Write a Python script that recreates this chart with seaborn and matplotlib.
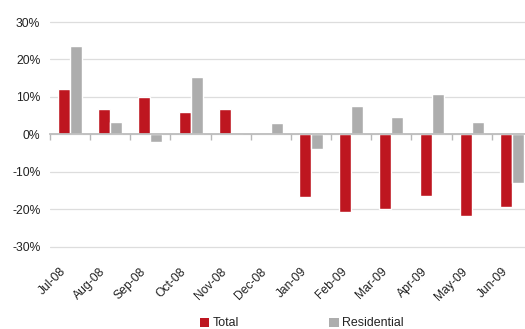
import matplotlib
matplotlib.use("Agg")
import matplotlib.pyplot as plt
from matplotlib.patches import Patch
from matplotlib.transforms import ScaledTranslation
from matplotlib.ticker import FuncFormatter, FixedLocator
import numpy as np
import pandas as pd
import seaborn as sns

# Monthly change, in percent
months = ["Jul-08", "Aug-08", "Sep-08", "Oct-08", "Nov-08", "Dec-08",
          "Jan-09", "Feb-09", "Mar-09", "Apr-09", "May-09", "Jun-09"]
total = [12.0, 6.7, 9.9, 5.9, 6.7, 0.0, -16.7, -20.8, -20.0, -16.4, -21.9, -19.5]
residential = [23.5, 3.2, -2.0, 15.2, 0.0, 2.9, -3.9, 7.5, 4.5, 10.9, 3.2, -13.0]
series_names = ["Total", "Residential"]
y_ticks = [-30, -20, -10, 0, 10, 20, 30]

colors = {"Total": "#BE1620", "Residential": "#ADADAD"}

df = pd.DataFrame({
    "month": months * 2,
    "value": total + residential,
    "series": [series_names[0]] * len(months) + [series_names[1]] * len(months),
})

sns.set_style("white")
plt.rcParams["font.family"] = ["Liberation Sans", "DejaVu Sans"]

fig = plt.figure(figsize=(5.25, 3.29), dpi=100)
ax = fig.add_axes([50 / 525, 0.2389, 482 / 525, 0.7056])

sns.barplot(data=df, x="month", y="value", hue="series", hue_order=series_names,
            palette=colors, width=0.6, gap=0, saturation=1, legend=False, ax=ax,
            zorder=2)

ax.set_ylim(-31, 31)
ax.set_xlim(-0.5, len(months) - 0.5)
ax.set_xlabel("")
ax.set_ylabel("")

# horizontal gridlines
ax.yaxis.set_major_locator(FixedLocator(y_ticks))
ax.yaxis.set_major_formatter(FuncFormatter(lambda v, p: f"{v:.0f}%"))
ax.grid(axis="y", color="#DDDDDD", linewidth=0.9, zorder=0)
ax.grid(axis="x", visible=False)
ax.set_axisbelow(True)
for s in ax.spines.values():
    s.set_visible(False)

ax.tick_params(axis="y", length=0, pad=7, labelsize=8.7, labelcolor="#222222")
ax.tick_params(axis="x", length=0, pad=11, labelsize=8.7, labelcolor="#222222")
for lbl in ax.get_xticklabels():
    lbl.set_rotation(45)
    lbl.set_ha("right")
    lbl.set_transform(lbl.get_transform() + ScaledTranslation(-2 / 100, 0, fig.dpi_scale_trans))

# zero baseline with category separators
zero = ax.secondary_xaxis(0, transform=ax.transData)
zero.set_zorder(5)
zero.set_xticks(np.arange(len(months) + 1) - 0.5)
zero.set_xticklabels([])
zero.tick_params(axis="x", length=4, width=1.0, color="#B8B8B8", direction="out")
zero.spines["bottom"].set_color("#BDBDBD")
zero.spines["bottom"].set_linewidth(1.3)

handles = [Patch(facecolor=colors[n], edgecolor="none", label=n) for n in series_names]
fig.legend(handles=handles, loc="center", bbox_to_anchor=(302 / 525, 5.5 / 329),
           ncol=2, frameon=False, fontsize=8.9, handlelength=0.75, handleheight=0.75,
           handletextpad=0.3, columnspacing=7.3, borderpad=0, labelcolor="#222222")

fig.savefig("out.png", dpi=100)
